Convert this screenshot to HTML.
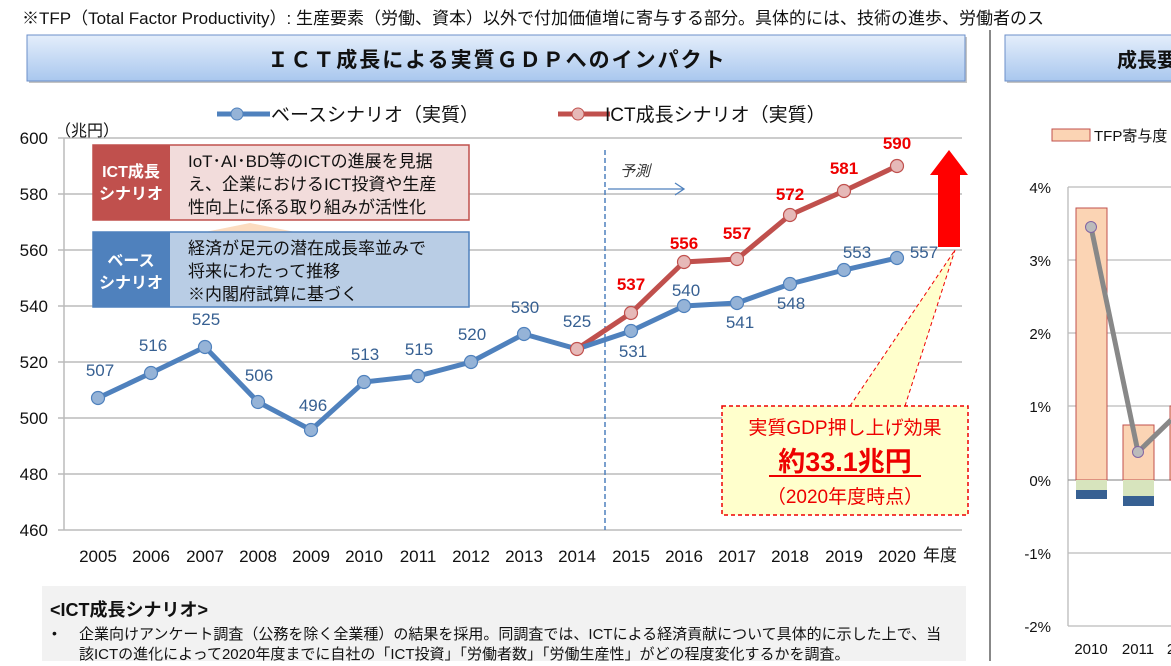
<!DOCTYPE html>
<html><head><meta charset="utf-8"><style>
body{margin:0;background:#fff;width:1171px;height:661px;overflow:hidden;font-family:"Liberation Sans","Noto Sans CJK JP",sans-serif}
svg text{font-family:"Liberation Sans","Noto Sans CJK JP",sans-serif}
</style></head><body>
<svg width="1171" height="661" viewBox="0 0 1171 661">
<defs>
<linearGradient id="tg" x1="0" y1="0" x2="0" y2="1"><stop offset="0" stop-color="#e4eefb"/><stop offset="1" stop-color="#a9c7ee"/></linearGradient>
</defs>
<text x="22" y="24" font-size="17" fill="#111">※TFP（Total Factor Productivity）: 生産要素（労働、資本）以外で付加価値増に寄与する部分。具体的には、技術の進歩、労働者のス</text>
<rect x="29" y="37" width="938" height="46" fill="#555" opacity="0.35"/>
<rect x="27" y="35" width="938" height="46" fill="url(#tg)" stroke="#6b8fc9"/>
<text x="497" y="67" font-size="21" font-weight="bold" text-anchor="middle" letter-spacing="2" fill="#111">ＩＣＴ成長による実質ＧＤＰへのインパクト</text>
<rect x="1007" y="37" width="170" height="46" fill="#555" opacity="0.35"/>
<rect x="1005" y="35" width="170" height="46" fill="url(#tg)" stroke="#6b8fc9"/>
<text x="1117" y="67" font-size="20" font-weight="bold" fill="#111">成長要</text>
<line x1="990" y1="30" x2="990" y2="661" stroke="#888" stroke-width="2"/>
<line x1="217" y1="114" x2="270" y2="114" stroke="#4f81bd" stroke-width="5"/><circle cx="237" cy="114" r="6" fill="#95b3d7" stroke="#4f81bd"/>
<text x="271" y="121" font-size="19" fill="#111">ベースシナリオ（実質）</text>
<line x1="558" y1="114" x2="610" y2="114" stroke="#c0504d" stroke-width="5"/><circle cx="578" cy="114" r="6" fill="#e6b9b8" stroke="#c0504d"/>
<text x="605" y="121" font-size="19" fill="#111">ICT成長シナリオ（実質）</text>
<g stroke="#bbb" stroke-width="1.5">
<line x1="58" y1="138" x2="962" y2="138"/><line x1="58" y1="194" x2="962" y2="194"/><line x1="58" y1="250" x2="962" y2="250"/><line x1="58" y1="306" x2="962" y2="306"/><line x1="58" y1="362" x2="962" y2="362"/><line x1="58" y1="418" x2="962" y2="418"/><line x1="58" y1="474" x2="962" y2="474"/><line x1="58" y1="530" x2="962" y2="530"/>
<line x1="64" y1="138" x2="64" y2="530"/>
</g>
<g font-size="17" fill="#111" text-anchor="end">
<text x="48" y="144">600</text><text x="48" y="200">580</text><text x="48" y="256">560</text><text x="48" y="312">540</text><text x="48" y="368">520</text><text x="48" y="424">500</text><text x="48" y="480">480</text><text x="48" y="536">460</text>
</g>
<text x="55" y="136" font-size="16" fill="#111">（兆円）</text>
<g font-size="17" fill="#111" text-anchor="middle">
<text x="98" y="562">2005</text><text x="151" y="562">2006</text><text x="205" y="562">2007</text><text x="258" y="562">2008</text><text x="311" y="562">2009</text><text x="364" y="562">2010</text><text x="418" y="562">2011</text><text x="471" y="562">2012</text><text x="524" y="562">2013</text><text x="577" y="562">2014</text><text x="631" y="562">2015</text><text x="684" y="562">2016</text><text x="737" y="562">2017</text><text x="790" y="562">2018</text><text x="844" y="562">2019</text><text x="897" y="562">2020</text>
</g>
<text x="923" y="561" font-size="17" fill="#111">年度</text>
<line x1="605" y1="150" x2="605" y2="530" stroke="#4f81bd" stroke-dasharray="5,3" stroke-width="1.5"/>
<text x="620" y="176" font-size="15" font-style="italic" fill="#333">予測</text>
<line x1="608" y1="189" x2="683" y2="189" stroke="#4f81bd" stroke-width="1.3"/><polyline points="675,183 684,189 675,195" fill="none" stroke="#4f81bd" stroke-width="1.3"/>
<polygon points="205,232 250,223 295,232" fill="#fcdcc0"/>
<rect x="93" y="145" width="376" height="75" fill="#f2dcdb" stroke="#c0504d" stroke-width="1.5"/>
<rect x="93" y="145" width="77" height="75" fill="#c0504d"/>
<text x="131" y="177" font-size="16" font-weight="bold" fill="#fff" text-anchor="middle">ICT成長</text>
<text x="131" y="199" font-size="16" font-weight="bold" fill="#fff" text-anchor="middle">シナリオ</text>
<g font-size="17" fill="#111"><text x="188" y="167">IoT･AI･BD等のICTの進展を見据</text><text x="188" y="190">え、企業におけるICT投資や生産</text><text x="188" y="213">性向上に係る取り組みが活性化</text></g>
<rect x="93" y="232" width="376" height="75" fill="#b9cde5" stroke="#4f81bd" stroke-width="1.5"/>
<rect x="93" y="232" width="77" height="75" fill="#4f81bd"/>
<text x="131" y="266" font-size="16" font-weight="bold" fill="#fff" text-anchor="middle">ベース</text>
<text x="131" y="288" font-size="16" font-weight="bold" fill="#fff" text-anchor="middle">シナリオ</text>
<g font-size="17" fill="#111"><text x="188" y="254">経済が足元の潜在成長率並みで</text><text x="188" y="277">将来にわたって推移</text><text x="188" y="300">※内閣府試算に基づく</text></g>
<polygon points="850,406 955,250 905,406" fill="#ffffcc"/>
<line x1="850" y1="406" x2="955" y2="250" stroke="#e00" stroke-dasharray="4,3"/>
<line x1="905" y1="406" x2="955" y2="250" stroke="#e00" stroke-dasharray="4,3"/>
<rect x="722" y="406" width="246" height="109" fill="#ffffcc" stroke="#e00" stroke-width="1.5" stroke-dasharray="4,3"/>
<text x="845" y="434" font-size="19" fill="#e00" text-anchor="middle">実質GDP押し上げ効果</text>
<text x="845" y="471" font-size="27" font-weight="bold" fill="#e00" text-anchor="middle">約33.1兆円</text>
<line x1="769" y1="476" x2="921" y2="476" stroke="#e00" stroke-width="2"/>
<text x="845" y="503" font-size="19" fill="#e00" text-anchor="middle">（2020年度時点）</text>
<polygon points="930,175 949,150 968,175 960,175 960,247 938,247 938,175" fill="#f00"/>
<polyline points="577,349 631,313 684,262 737,259 790,215 844,191 897,166" fill="none" stroke="#c0504d" stroke-width="5"/>
<polyline points="98,398 151,373 205,347 258,402 311,430 364,382 418,376 471,362 524,334 577,349 631,331 684,306 737,303 790,284 844,270 897,258" fill="none" stroke="#4f81bd" stroke-width="5"/>
<g fill="#95b3d7" stroke="#4f81bd" stroke-width="1.2">
<circle cx="98" cy="398" r="6.5"/><circle cx="151" cy="373" r="6.5"/><circle cx="205" cy="347" r="6.5"/><circle cx="258" cy="402" r="6.5"/><circle cx="311" cy="430" r="6.5"/><circle cx="364" cy="382" r="6.5"/><circle cx="418" cy="376" r="6.5"/><circle cx="471" cy="362" r="6.5"/><circle cx="524" cy="334" r="6.5"/><circle cx="631" cy="331" r="6.5"/><circle cx="684" cy="306" r="6.5"/><circle cx="737" cy="303" r="6.5"/><circle cx="790" cy="284" r="6.5"/><circle cx="844" cy="270" r="6.5"/><circle cx="897" cy="258" r="6.5"/>
</g>
<g fill="#e6b9b8" stroke="#c0504d" stroke-width="1.2">
<circle cx="577" cy="349" r="6.5"/><circle cx="631" cy="313" r="6.5"/><circle cx="684" cy="262" r="6.5"/><circle cx="737" cy="259" r="6.5"/><circle cx="790" cy="215" r="6.5"/><circle cx="844" cy="191" r="6.5"/><circle cx="897" cy="166" r="6.5"/>
</g>
<g font-size="17" fill="#376092" text-anchor="middle">
<text x="100" y="376">507</text><text x="153" y="351">516</text><text x="206" y="325">525</text><text x="259" y="381">506</text><text x="313" y="411">496</text><text x="365" y="360">513</text><text x="419" y="355">515</text><text x="472" y="340">520</text><text x="525" y="313">530</text><text x="577" y="327">525</text><text x="633" y="357">531</text><text x="686" y="296">540</text><text x="740" y="328">541</text><text x="791" y="309">548</text><text x="857" y="258">553</text><text x="924" y="258">557</text>
</g>
<g font-size="17" font-weight="bold" fill="#e00" text-anchor="middle">
<text x="631" y="290">537</text><text x="684" y="249">556</text><text x="737" y="239">557</text><text x="790" y="200">572</text><text x="844" y="174">581</text><text x="897" y="149">590</text>
</g>
<rect x="42" y="586" width="924" height="80" fill="#f2f2f2"/>
<text x="50" y="616" font-size="18" font-weight="bold" fill="#111">&lt;ICT成長シナリオ&gt;</text>
<text x="52" y="638" font-size="14" fill="#111">•</text>
<text x="79" y="639" font-size="15" fill="#111">企業向けアンケート調査（公務を除く全業種）の結果を採用。同調査では、ICTによる経済貢献について具体的に示した上で、当</text>
<text x="79" y="659" font-size="15" fill="#111">該ICTの進化によって2020年度までに自社の「ICT投資」「労働者数」「労働生産性」がどの程度変化するかを調査。</text>
<rect x="1052" y="129" width="38" height="12" fill="#fbd4b4" stroke="#c0504d"/>
<text x="1094" y="141" font-size="15" fill="#111">TFP寄与度</text>
<g stroke="#bbb" stroke-width="1.3">
<line x1="1068" y1="187" x2="1171" y2="187"/><line x1="1068" y1="260" x2="1171" y2="260"/><line x1="1068" y1="333" x2="1171" y2="333"/><line x1="1068" y1="406" x2="1171" y2="406"/><line x1="1068" y1="553" x2="1171" y2="553"/><line x1="1068" y1="626" x2="1171" y2="626"/>
<line x1="1068" y1="187" x2="1068" y2="626"/>
</g>
<line x1="1068" y1="480" x2="1171" y2="480" stroke="#999" stroke-width="1.3"/>
<g font-size="15" fill="#111" text-anchor="end">
<text x="1051" y="193">4%</text><text x="1051" y="266">3%</text><text x="1051" y="339">2%</text><text x="1051" y="412">1%</text><text x="1051" y="486">0%</text><text x="1051" y="559">-1%</text><text x="1051" y="632">-2%</text>
</g>
<rect x="1076" y="208" width="31" height="272" fill="#fbd4b4" stroke="#c0504d"/>
<rect x="1076" y="480" width="31" height="10" fill="#d7e4bd"/>
<rect x="1076" y="490" width="31" height="9" fill="#376092"/>
<rect x="1123" y="425" width="31" height="55" fill="#fbd4b4" stroke="#c0504d"/>
<rect x="1123" y="480" width="31" height="16" fill="#d7e4bd"/>
<rect x="1123" y="496" width="31" height="10" fill="#376092"/>
<rect x="1170" y="406" width="10" height="74" fill="#fbd4b4" stroke="#c0504d"/>
<polyline points="1091,227 1138,452 1171,420" fill="none" stroke="#888" stroke-width="5"/>
<circle cx="1091" cy="227" r="5.5" fill="#bbb" stroke="#8064a2"/>
<circle cx="1138" cy="452" r="5.5" fill="#bbb" stroke="#8064a2"/>
<g font-size="15" fill="#111" text-anchor="middle"><text x="1091" y="654">2010</text><text x="1138" y="654">2011</text><text x="1171" y="654">2</text></g>
</svg>
</body></html>
